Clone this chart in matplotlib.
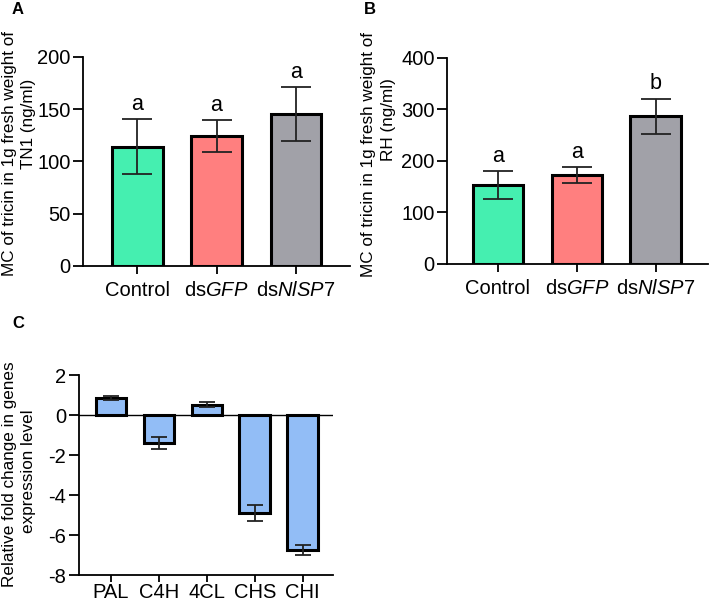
import matplotlib
matplotlib.use("Agg")
import matplotlib.pyplot as plt

plt.rcParams['font.family'] = ['Liberation Sans', 'DejaVu Sans']
plt.rcParams['mathtext.fontset'] = 'custom'
plt.rcParams['mathtext.rm'] = 'Liberation Sans'
plt.rcParams['mathtext.it'] = 'Liberation Sans:italic'
plt.rcParams['axes.unicode_minus'] = False

# panel A / B data
groups = ["Control", r"ds$\mathit{GFP}$", r"ds$\mathit{NlSP7}$"]
colors = ["#45EFB0", "#FF7F7F", "#A1A1A8"]

tn1_mean = [114, 124, 145]
tn1_err = [26, 15.5, 26]
tn1_letters = ["a", "a", "a"]

rh_mean = [154, 173, 287]
rh_err = [27, 15.5, 34]
rh_letters = ["a", "a", "b"]

# panel C data
genes = ["PAL", "C4H", "4CL", "CHS", "CHI"]
fold_change = [0.85, -1.38, 0.52, -4.92, -6.73]
fold_err = [0.12, 0.3, 0.13, 0.4, 0.25]
gene_color = "#92BDF6"

fig = plt.figure(figsize=(7.1, 6.04), dpi=100)


def bar_panel(ax, means, errs, letters, ymax, step, xlim):
    x = list(range(len(means)))
    ax.bar(x, means, width=0.64, color=colors, edgecolor="black", linewidth=2.2, zorder=2)
    ax.errorbar(x, means, yerr=errs, fmt="none", ecolor="#222222", elinewidth=1.3,
                capsize=11, capthick=1.3, zorder=3)
    for xi, m, e, lab in zip(x, means, errs, letters):
        ax.annotate(lab, (xi, m + e), xytext=(0, 3), textcoords="offset points",
                    ha="center", va="bottom", fontsize=15.5)
    ax.set_xlim(*xlim)
    ax.set_ylim(0, ymax)
    ax.set_yticks(range(0, ymax + 1, step))
    ax.set_xticks(x)
    ax.set_xticklabels(groups, fontsize=14.5)
    ax.tick_params(axis="y", labelsize=14.5, length=7, width=1.3, pad=2)
    ax.tick_params(axis="x", length=6, width=1.3, pad=5)
    for s in ["top", "right"]:
        ax.spines[s].set_visible(False)
    for s in ["left", "bottom"]:
        ax.spines[s].set_linewidth(1.3)


# Panel A
axA = fig.add_axes([0.117, 0.560, 0.376, 0.346])
bar_panel(axA, tn1_mean, tn1_err, tn1_letters, 200, 50, (-0.68, 2.68))
fig.text(10 / 710, 1 - 153 / 604, "MC of tricin in 1g fresh weight of", rotation=90,
         ha="center", va="center", fontsize=12.3)
fig.text(28 / 710, 1 - 124 / 604, "TN1 (ng/ml)", rotation=90,
         ha="center", va="center", fontsize=12.3)
fig.text(12 / 710, 1 - 9 / 604, "A", fontsize=12, fontweight="bold", ha="left", va="center")

# Panel B
axB = fig.add_axes([0.630, 0.563, 0.367, 0.341])
bar_panel(axB, rh_mean, rh_err, rh_letters, 400, 100, (-0.64, 2.66))
fig.text(369 / 710, 1 - 154 / 604, "MC of tricin in 1g fresh weight of", rotation=90,
         ha="center", va="center", fontsize=12.3)
fig.text(388 / 710, 1 - 120 / 604, "RH (ng/ml)", rotation=90,
         ha="center", va="center", fontsize=12.3)
fig.text(364 / 710, 1 - 9 / 604, "B", fontsize=12, fontweight="bold", ha="left", va="center")

# Panel C
axC = fig.add_axes([0.111, 0.048, 0.358, 0.331])
xg = list(range(len(genes)))
axC.bar(xg, fold_change, width=0.64, color=gene_color, edgecolor="black", linewidth=2.2, zorder=2)
axC.errorbar(xg, fold_change, yerr=fold_err, fmt="none", ecolor="#222222", elinewidth=1.3,
             capsize=6, capthick=1.3, zorder=3)
axC.axhline(0, color="black", linewidth=1.0, zorder=1)
axC.set_xlim(-0.67, 4.63)
axC.set_ylim(-8, 2)
axC.set_yticks(range(-8, 3, 2))
axC.set_xticks(xg)
axC.set_xticklabels(genes, fontsize=14.5)
axC.tick_params(axis="y", labelsize=14.5, length=7, width=1.3, pad=2)
axC.tick_params(axis="x", length=5, width=1.3, pad=0.5)
for s in ["top", "right"]:
    axC.spines[s].set_visible(False)
for s in ["left", "bottom"]:
    axC.spines[s].set_linewidth(1.3)
fig.text(10 / 710, 1 - 474 / 604, "Relative fold change in genes", rotation=90,
         ha="center", va="center", fontsize=12.3)
fig.text(29 / 710, 1 - 471 / 604, "expression level", rotation=90,
         ha="center", va="center", fontsize=12.3)
fig.text(12 / 710, 1 - 323 / 604, "C", fontsize=12, fontweight="bold", ha="left", va="center")

fig.savefig("out.png", dpi=100)
